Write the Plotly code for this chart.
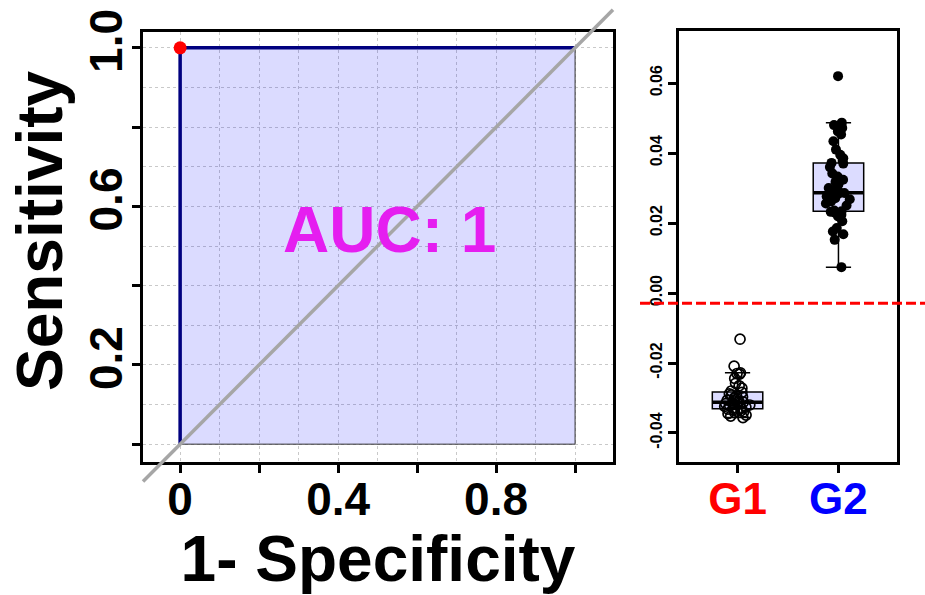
import numpy as np
import plotly.graph_objects as go

# ---------------- data ----------------
ROC_FPR = [0.0, 0.0, 1.0]          # 1 - specificity
ROC_TPR = [0.0, 1.0, 1.0]          # sensitivity
AUC = 1
AUC_LABEL = f"AUC: {AUC}"
BEST_POINT = ([0.0], [1.0])

LEFT_X_TICKS = [0, 0.2, 0.4, 0.6, 0.8, 1.0]
LEFT_X_LABELS = ["0", "", "0.4", "", "0.8", ""]
LEFT_Y_TICKS = [0, 0.2, 0.4, 0.6, 0.8, 1.0]
LEFT_Y_LABELS = ["", "0.2", "", "0.6", "", "1.0"]
GRID_MINOR = [0.1, 0.3, 0.5, 0.7, 0.9]

GROUPS = ["G1", "G2"]
GROUP_POS = [1, 2]
GROUP_COLORS = ["#FF0000", "#0000FF"]
G1 = [-0.0356, -0.0352, -0.0349, -0.0345, -0.0342, -0.0340, -0.0338, -0.0336, -0.0334, -0.0332,
      -0.0330, -0.0328, -0.0326, -0.0324, -0.0322, -0.0320, -0.0318, -0.0316, -0.0314, -0.0313,
      -0.0312, -0.0310, -0.0308, -0.0306, -0.0303, -0.0300, -0.0297, -0.0294, -0.0291, -0.0288,
      -0.0284, -0.0280, -0.0272, -0.0265, -0.0258, -0.0244, -0.0232, -0.0230, -0.0228, -0.0209,
      -0.0132]
G2 = [0.0074, 0.0152, 0.0168, 0.0176, 0.0186, 0.0205, 0.0219, 0.0224, 0.0229, 0.0232,
      0.0234, 0.0236, 0.0250, 0.0256, 0.0262, 0.0268, 0.0271, 0.0276, 0.0280, 0.0284,
      0.0286, 0.0287, 0.0295, 0.0300, 0.0310, 0.0318, 0.0324, 0.0333, 0.0342, 0.0360,
      0.0370, 0.0372, 0.0385, 0.0395, 0.0410, 0.0434, 0.0453, 0.0462, 0.0472, 0.0480,
      0.0487, 0.0620]
THRESHOLD = -0.0029
RIGHT_Y_TICKS = [-0.04, -0.02, 0.0, 0.02, 0.04, 0.06]

# ---------------- style ----------------
FONT = "Liberation Sans, Arial, sans-serif"
XR = [-0.094, 1.096]
YR = [-0.045, 1.04]
X2R = [0.42, 2.58]
Y2R = [-0.0483, 0.0749]
GRIDC = "#C9C9C9"
FILL = "rgba(0,0,255,0.14)"
BOXFILL = "#DCDCFF"

fig = go.Figure()

# ROC area polygon
fig.add_trace(go.Scatter(
    x=[ROC_FPR[0], ROC_FPR[1], ROC_FPR[2], ROC_FPR[2], ROC_FPR[0]],
    y=[ROC_TPR[0], ROC_TPR[1], ROC_TPR[2], ROC_TPR[0], ROC_TPR[0]],
    fill="toself", fillcolor=FILL, mode="lines",
    line=dict(color="#333333", width=1), hoverinfo="skip", showlegend=False,
    xaxis="x", yaxis="y"))
# ROC curve
fig.add_trace(go.Scatter(
    x=ROC_FPR, y=ROC_TPR, mode="lines",
    line=dict(color="#00007F", width=3.5), showlegend=False,
    xaxis="x", yaxis="y"))
# best threshold point
fig.add_trace(go.Scatter(
    x=BEST_POINT[0], y=BEST_POINT[1], mode="markers",
    marker=dict(color="#FF0000", size=13), cliponaxis=False, showlegend=False,
    xaxis="x", yaxis="y"))

# diagonal reference line (y = x), spanning full x range, not clipped
def fx(v):
    return (v - XR[0]) / (XR[1] - XR[0])

def fy(v):
    return (v - YR[0]) / (YR[1] - YR[0])

fig.add_shape(type="line", xref="x domain", yref="y domain",
              x0=fx(XR[0]), y0=fy(XR[0]), x1=fx(XR[1]), y1=fy(XR[1]),
              line=dict(color="#A6A6A6", width=3.5), layer="above")

fig.add_annotation(x=0.53, y=0.54, xref="x", yref="y", text=AUC_LABEL, showarrow=False,
                   font=dict(family=FONT, size=64, color="#E51EF0", weight="bold"))

# y-axis title of the ROC panel
fig.add_annotation(x=40 / 925, y=1 - 231 / 595, xref="paper", yref="paper",
                   text="Sensitivity", textangle=-90, showarrow=False,
                   xanchor="center", yanchor="middle",
                   font=dict(family=FONT, size=64, color="black", weight="bold"))

# ---------------- right panel: boxplots ----------------
for vals, pos in zip([G1, G2], GROUP_POS):
    fig.add_trace(go.Box(
        y=vals, x=[pos] * len(vals), boxpoints="outliers", width=0.5, whiskerwidth=0.5,
        fillcolor=BOXFILL, line=dict(color="black", width=1.5),
        marker=dict(opacity=0, size=1),
        showlegend=False, xaxis="x2", yaxis="y2", hoverinfo="skip"))
for vals, pos in zip([G1, G2], GROUP_POS):
    med = float(np.median(vals))
    fig.add_trace(go.Scatter(
        x=[pos - 0.25, pos + 0.25], y=[med, med], mode="lines",
        line=dict(color="black", width=3.5), showlegend=False,
        xaxis="x2", yaxis="y2", hoverinfo="skip"))
marker_styles = [
    dict(symbol="circle-open", color="black", size=10, line=dict(width=1.7, color="black")),
    dict(symbol="circle", color="black", size=10),
]
for vals, pos, mk in zip([G1, G2], GROUP_POS, marker_styles):
    fig.add_trace(go.Box(
        y=vals, x=[pos] * len(vals), boxpoints="all", jitter=0.55, pointpos=0,
        width=0.5, fillcolor="rgba(0,0,0,0)", line=dict(color="rgba(0,0,0,0)", width=0),
        marker=mk, showlegend=False, xaxis="x2", yaxis="y2", hoverinfo="skip"))

# threshold line (extends past the frame)
fy2 = (THRESHOLD - Y2R[0]) / (Y2R[1] - Y2R[0])
fig.add_shape(type="line", xref="paper", yref="y2 domain",
              x0=640 / 925, x1=1.0, y0=fy2, y1=fy2,
              line=dict(color="#FF0000", width=3, dash="10px,4px"), layer="above")

axis_common = dict(showline=True, mirror=True, linecolor="black", linewidth=3,
                   ticks="outside", ticklen=8, tickwidth=3, tickcolor="black",
                   zeroline=False, automargin=False)

fig.update_layout(
    width=925, height=595, margin=dict(l=0, r=0, t=0, b=0),
    paper_bgcolor="white", plot_bgcolor="white", boxmode="overlay",
    font=dict(family=FONT, color="black"),
    xaxis=dict(domain=[143 / 925, 613 / 925], range=XR, anchor="y",
               tickvals=LEFT_X_TICKS, ticktext=LEFT_X_LABELS, ticklabelstandoff=-13,
               tickfont=dict(family=FONT, size=46, weight="bold"),
               showgrid=True, gridcolor=GRIDC, griddash="dot", gridwidth=1,
               minor=dict(tickvals=GRID_MINOR, showgrid=True, gridcolor=GRIDC,
                          griddash="dot", gridwidth=1),
               title=dict(text="1- Specificity", standoff=29,
                          font=dict(family=FONT, size=64, weight="bold")),
               **axis_common),
    yaxis=dict(domain=[1 - 462 / 595, 1 - 32 / 595], range=YR, anchor="x",
               tickvals=LEFT_Y_TICKS, ticktext=LEFT_Y_LABELS, tickangle=-90,
               ticklabelstandoff=-8,
               tickfont=dict(family=FONT, size=46, weight="bold"),
               showgrid=True, gridcolor=GRIDC, griddash="dot", gridwidth=1,
               minor=dict(tickvals=GRID_MINOR, showgrid=True, gridcolor=GRIDC,
                          griddash="dot", gridwidth=1),
               **axis_common),
    xaxis2=dict(domain=[679 / 925, 897 / 925], range=X2R, anchor="y2",
                tickvals=GROUP_POS, ticklabelstandoff=-12,
                ticktext=[f'<span style="color:{c}">{g}</span>' for g, c in zip(GROUPS, GROUP_COLORS)],
                tickfont=dict(family=FONT, size=44, weight="bold"),
                showgrid=False, **axis_common),
    yaxis2=dict(domain=[1 - 462 / 595, 1 - 31 / 595], range=Y2R, anchor="x2",
                tickvals=RIGHT_Y_TICKS, ticktext=[f"{v:.2f}" for v in RIGHT_Y_TICKS],
                tickangle=-90, tickfont=dict(family=FONT, size=16, weight="bold"),
                showgrid=False, **axis_common),
)

fig.write_html("out.html")
